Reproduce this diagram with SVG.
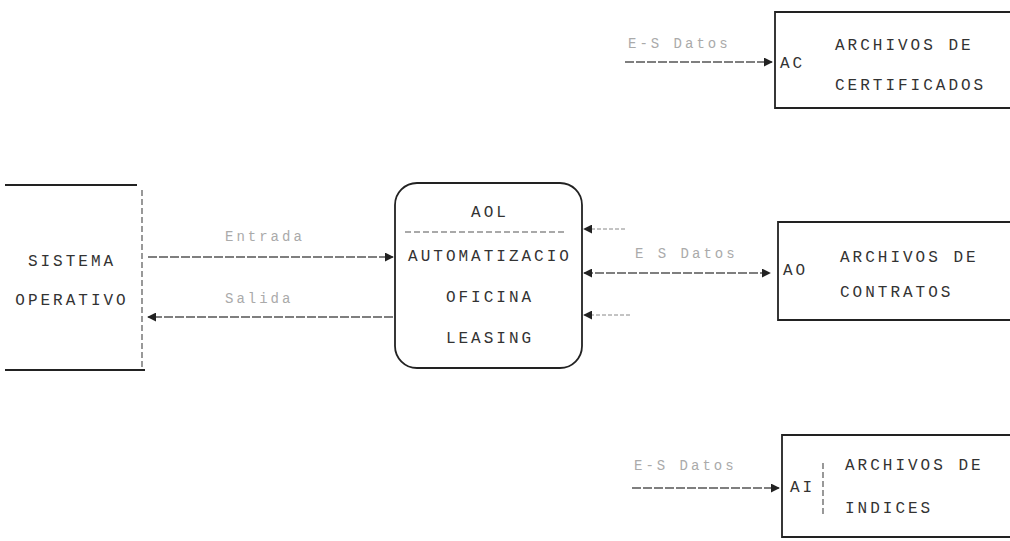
<svg xmlns="http://www.w3.org/2000/svg" width="1010" height="541" viewBox="0 0 1010 541">
<defs>
<marker id="ah" viewBox="0 0 10 10" refX="9" refY="5" markerWidth="9" markerHeight="9" markerUnits="userSpaceOnUse" orient="auto-start-reverse">
<path d="M0,0 L10,5 L0,10 z" fill="#222"/>
</marker>
<style>
.box{fill:none;stroke:#222;stroke-width:1.8}
.sep{fill:none;stroke:#555;stroke-width:1.2;stroke-dasharray:6 3}
.conn{fill:none;stroke:#555;stroke-width:1.3;stroke-dasharray:9 2}
.lt{fill:none;stroke:#888;stroke-width:1;stroke-dasharray:4 2}
.t{font-family:"Liberation Mono","DejaVu Sans Mono",monospace;font-size:16px;letter-spacing:3px;fill:#333}
.lbl{font-family:"Liberation Mono","DejaVu Sans Mono",monospace;font-size:14px;letter-spacing:3px;fill:#aaa}
</style>
</defs>
<rect width="1010" height="541" fill="#fff"/>

<g id="sistema-operativo">
<path class="box" d="M5,185 H137"/>
<path class="sep" d="M142,190 V370"/>
<path class="box" d="M5,370 H145"/>
<text class="t" x="72" y="266" text-anchor="middle">SISTEMA</text>
<text class="t" x="72" y="305" text-anchor="middle">OPERATIVO</text>
</g>

<g id="aol">
<rect class="box" x="395" y="183" width="187" height="185" rx="22" ry="22"/>
<path class="sep" d="M405,232 H565"/>
<text class="t" x="490" y="217" text-anchor="middle">AOL</text>
<text class="t" x="490" y="261" text-anchor="middle">AUTOMATIZACIO</text>
<text class="t" x="490" y="302" text-anchor="middle">OFICINA</text>
<text class="t" x="490" y="343" text-anchor="middle">LEASING</text>
</g>

<g id="archivos-certificados">
<path class="box" d="M1010,12 H775 V108 H1010"/>
<text class="t" x="780" y="68">AC</text>
<text class="t" x="835" y="50">ARCHIVOS DE</text>
<text class="t" x="835" y="90">CERTIFICADOS</text>
</g>

<g id="archivos-contratos">
<path class="box" d="M1010,222 H778 V320 H1010"/>
<text class="t" x="783" y="275">AO</text>
<text class="t" x="840" y="262">ARCHIVOS DE</text>
<text class="t" x="840" y="297">CONTRATOS</text>
</g>

<g id="archivos-indices">
<path class="box" d="M1010,435 H782 V537 H1010"/>
<path class="sep" d="M823,463 V515"/>
<text class="t" x="790" y="492">AI</text>
<text class="t" x="845" y="470">ARCHIVOS DE</text>
<text class="t" x="845" y="513">INDICES</text>
</g>

<g id="connectors">
<path class="conn" d="M148,257 H393" marker-end="url(#ah)"/>
<text class="lbl" x="225" y="241">Entrada</text>
<path class="conn" d="M393,317 H148" marker-end="url(#ah)"/>
<text class="lbl" x="225" y="303">Salida</text>

<path class="lt" d="M625,229 H584" marker-end="url(#ah)"/>
<path class="conn" d="M584,273 H770" marker-start="url(#ah)" marker-end="url(#ah)"/>
<text class="lbl" x="635" y="258">E S Datos</text>
<path class="lt" d="M630,315 H584" marker-end="url(#ah)"/>

<path class="conn" d="M625,62 H772" marker-end="url(#ah)"/>
<text class="lbl" x="628" y="48">E-S Datos</text>

<path class="conn" d="M632,488 H779" marker-end="url(#ah)"/>
<text class="lbl" x="634" y="470">E-S Datos</text>
</g>
</svg>
